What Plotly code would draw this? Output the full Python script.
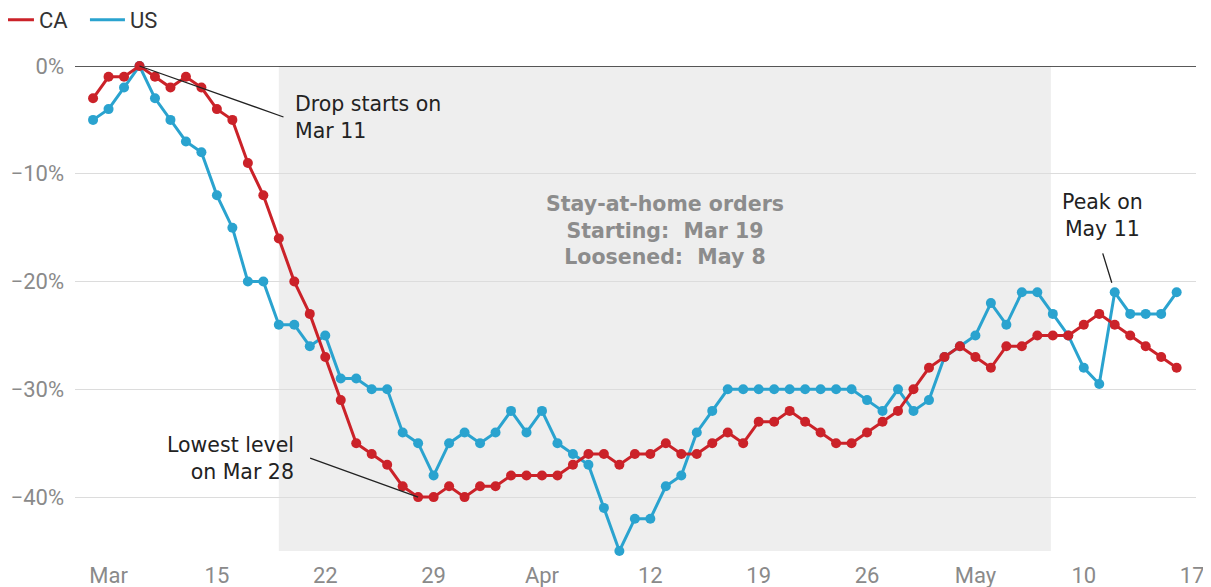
import plotly.graph_objects as go
import pandas as pd

# ---- data (percent change, daily from Mar 7 2020) ----
start_date = "2020-03-07"
ca_values = [-3, -1, -1, 0, -1, -2, -1, -2, -4, -5,
             -9, -12, -16, -20, -23, -27, -31, -35, -36, -37,
             -39, -40, -40, -39, -40, -39, -39, -38, -38, -38,
             -38, -37, -36, -36, -37, -36, -36, -35, -36, -36,
             -35, -34, -35, -33, -33, -32, -33, -34, -35, -35,
             -34, -33, -32, -30, -28, -27, -26, -27, -28, -26,
             -26, -25, -25, -25, -24, -23, -24, -25, -26, -27,
             -28]
us_values = [-5, -4, -2, 0, -3, -5, -7, -8, -12, -15,
             -20, -20, -24, -24, -26, -25, -29, -29, -30, -30,
             -34, -35, -38, -35, -34, -35, -34, -32, -34, -32,
             -35, -36, -37, -41, -45, -42, -42, -39, -38, -34,
             -32, -30, -30, -30, -30, -30, -30, -30, -30, -30,
             -31, -32, -30, -32, -31, -27, -26, -25, -22, -24,
             -21, -21, -23, -25, -28, -29.5, -21, -23, -23, -23,
             -21]
series_names = ["CA", "US"]
series_colors = {"CA": "#cb2229", "US": "#2aa3cf"}

tick_dates = ["2020-03-08", "2020-03-15", "2020-03-22", "2020-03-29",
              "2020-04-05", "2020-04-12", "2020-04-19", "2020-04-26",
              "2020-05-03", "2020-05-10", "2020-05-17"]
tick_labels = ["Mar", "15", "22", "29", "Apr", "12", "19", "26", "May", "10", "17"]
y_ticks = [0, -10, -20, -30, -40]
y_tick_labels = ["0%", "\u221210%", "\u221220%", "\u221230%", "\u221240%"]

stay_start = "2020-03-19"
stay_end = "2020-05-07 21:00"
drop_date = "2020-03-10"
low_date = "2020-03-28"
peak_date = "2020-05-12"

dates = pd.date_range(start_date, periods=len(ca_values), freq="D")
date_str = [d.strftime("%Y-%m-%d") for d in dates]
values = {"CA": ca_values, "US": us_values}

fig = go.Figure()
# actual series: US underneath, CA on top
for name in ["US", "CA"]:
    fig.add_trace(go.Scatter(x=date_str, y=values[name], mode="lines+markers", name=name,
                             showlegend=False, cliponaxis=False,
                             line=dict(color=series_colors[name], width=3),
                             marker=dict(color=series_colors[name], size=10)))
# legend-only entries (line only)
for name in series_names:
    fig.add_trace(go.Scatter(x=[date_str[0]], y=[None], mode="lines", name=name,
                             line=dict(color=series_colors[name], width=3)))

# shaded stay-at-home period
fig.add_shape(type="rect", xref="x", yref="paper", x0=stay_start, x1=stay_end, y0=0, y1=1,
              fillcolor="#eeeeee", line_width=0, layer="below")
# zero line
fig.add_shape(type="line", xref="paper", yref="y", x0=0, x1=1, y0=0, y1=0,
              line=dict(color="#222222", width=1.5), layer="below")

def idx(d):
    return date_str.index(d)

ann_font = dict(family="DejaVu Sans, sans-serif", size=20.5, color="#222222")
fig.add_annotation(x=drop_date, y=ca_values[idx(drop_date)],
                   text="Drop starts on<br>Mar 11", showarrow=True, arrowhead=0,
                   arrowwidth=1.3, arrowcolor="#222222", ax=144, ay=51,
                   xanchor="left", yanchor="middle", align="left", borderpad=10,
                   font=ann_font)
fig.add_annotation(x=low_date, y=ca_values[idx(low_date)],
                   text="Lowest level<br>on Mar 28", showarrow=True, arrowhead=0,
                   arrowwidth=1.3, arrowcolor="#222222", ax=-108, ay=-39,
                   xanchor="right", yanchor="middle", align="right", borderpad=15,
                   font=ann_font)
fig.add_annotation(x=peak_date, y=us_values[idx(peak_date)],
                   text="Peak on<br>May 11", showarrow=True, arrowhead=0,
                   arrowwidth=1.3, arrowcolor="#222222", ax=-12, ay=-39, standoff=10,
                   xanchor="center", yanchor="bottom", align="center", borderpad=11,
                   font=ann_font)
mid = pd.Timestamp(stay_start) + (pd.Timestamp(stay_end) - pd.Timestamp(stay_start)) / 2
fig.add_annotation(x=mid.strftime("%Y-%m-%d %H:%M"), y=-15.3, showarrow=False,
                   text="<b>Stay-at-home orders</b><br><b>Starting:  Mar 19</b><br><b>Loosened:  May 8</b>",
                   align="center", font=dict(family="DejaVu Sans, sans-serif",
                                             size=20.5, color="#8c8c8c"))

# page body adds an 8px margin, so the figure is sized to fit the window
fig.update_layout(
    width=1203, height=579,
    margin=dict(l=67, r=15, t=58, b=36, autoexpand=False),
    paper_bgcolor="white", plot_bgcolor="white",
    showlegend=True,
    legend=dict(orientation="h", xref="paper", yref="paper", x=-0.0723, y=1.0948,
                xanchor="left", yanchor="middle", font=dict(family="Roboto", size=22, color="#333333"),
                entrywidth=41, entrywidthmode="pixels", itemwidth=35, bgcolor="rgba(0,0,0,0)",
                traceorder="normal"),
    xaxis=dict(type="date", range=["2020-03-05 20:00", "2020-05-17 06:00"], tickvals=tick_dates,
               ticktext=tick_labels, showgrid=False, zeroline=False, showline=False,
               ticks="", ticklabelstandoff=9, automargin=False,
               tickfont=dict(family="Roboto", size=22, color="#8a8a8a")),
    yaxis=dict(range=[-45, 0], tickvals=y_ticks, ticktext=y_tick_labels,
               showgrid=True, gridcolor="#dcdcdc", gridwidth=1, zeroline=False,
               showline=False, ticks="", ticklabelstandoff=10, automargin=False,
               tickfont=dict(family="Roboto", size=22, color="#8a8a8a")),
)

fig.write_html("out.html")
